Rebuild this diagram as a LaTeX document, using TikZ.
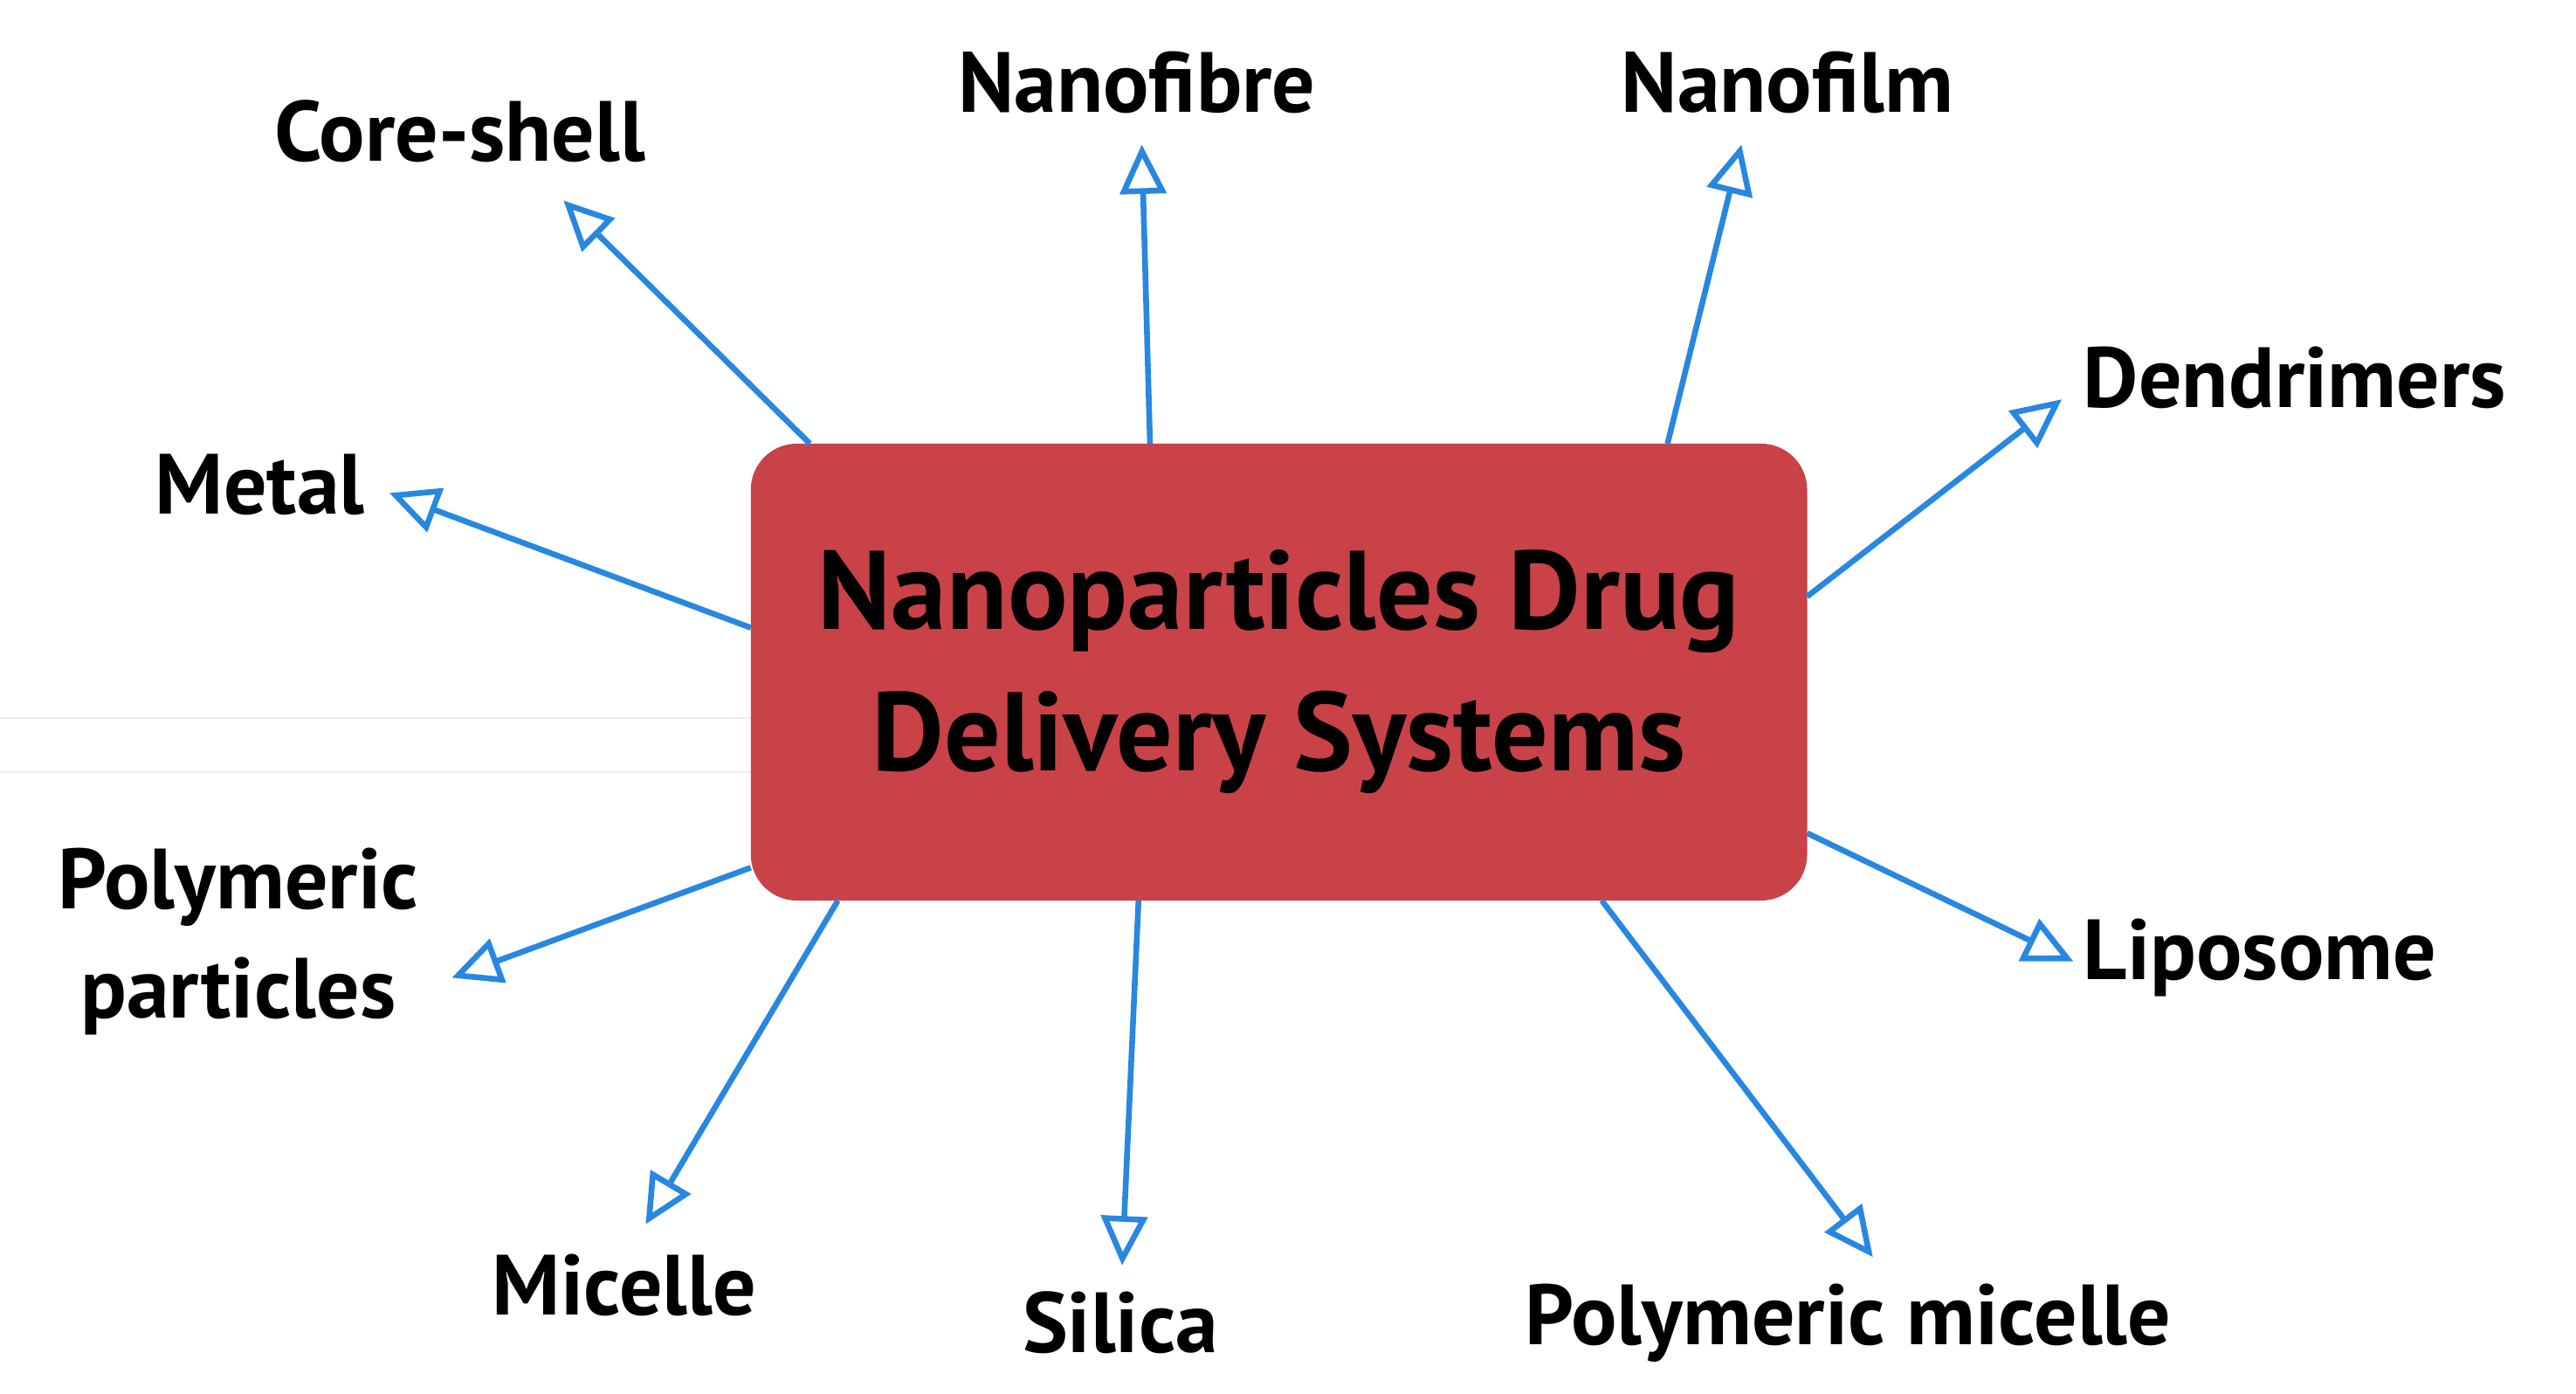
\documentclass[tikz,border=0pt]{standalone}
\usepackage{fontspec}
\setmainfont{PT Sans}
\usetikzlibrary{arrows.meta}
\definecolor{boxred}{RGB}{200,66,72}
\definecolor{arrblue}{RGB}{40,135,225}
\begin{document}
\begin{tikzpicture}[x=1pt,y=-1pt,
  arr/.style={draw=arrblue,line width=3.5pt,-{Triangle[open,length=30pt,width=28pt,line width=3.5pt]}},
  lbl/.style={font=\fontsize{52}{66}\selectfont\bfseries,inner sep=0pt,align=center}]
\useasboundingbox (0,0) rectangle (1568,848);
\draw[gray!15,line width=1pt] (0,437) -- (457,437) (0,470) -- (457,470);
\node[fill=boxred,rounded corners=28pt,minimum width=643pt,minimum height=278pt,inner sep=0pt,
  font=\fontsize{68}{86}\selectfont\bfseries,align=center] (box) at (778.5,409)
  {Nanoparticles Drug\\Delivery Systems};
\coordinate (s1) at (493,270); \coordinate (t1) at (343,122);
\coordinate (s2) at (700,270); \coordinate (t2) at (695,88);
\coordinate (s3) at (1015,270); \coordinate (t3) at (1060,88);
\coordinate (s4) at (1100,363); \coordinate (t4) at (1255,243);
\coordinate (s5) at (457,382); \coordinate (t5) at (237,300);
\coordinate (s6) at (457,528); \coordinate (t6) at (275,595);
\coordinate (s7) at (510,548); \coordinate (t7) at (393,745);
\coordinate (s8) at (693,548); \coordinate (t8) at (683,770);
\coordinate (s9) at (975,548); \coordinate (t9) at (1140,765);
\coordinate (s10) at (1100,507); \coordinate (t10) at (1262,585);
\foreach \i in {1,...,10} \draw[arr] (s\i) -- (t\i);
\node[lbl] (l1) at (280,80) {Core-shell};
\node[lbl] (l2) at (692,50) {Nanofibre};
\node[lbl] (l3) at (1088,50) {Nanofilm};
\node[lbl,anchor=west] (l4) at (1268,230) {Dendrimers};
\node[lbl,anchor=east] (l5) at (222,295) {Metal};
\node[lbl] (l6) at (145,573) {Polymeric\\particles};
\node[lbl] (l7) at (380,782) {Micelle};
\node[lbl] (l8) at (682,805) {Silica};
\node[lbl] (l9) at (1125,805) {Polymeric micelle};
\node[lbl,anchor=west] (l10) at (1268,583) {Liposome};
\end{tikzpicture}
\end{document}
